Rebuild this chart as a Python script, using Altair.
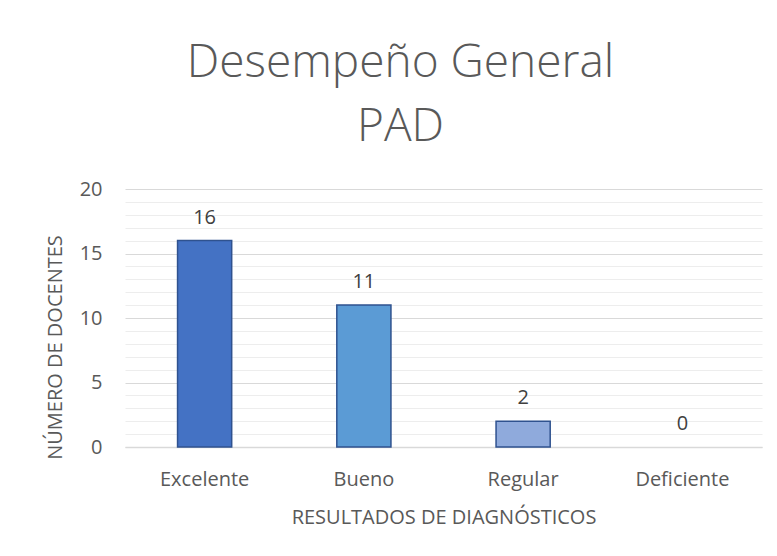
import altair as alt
import pandas as pd

categorias = ["Excelente", "Bueno", "Regular", "Deficiente"]
docentes = [16, 11, 2, 0]
colores = ["#4472C4", "#5B9BD5", "#8FAADC", "#A5A5A5"]

df = pd.DataFrame({"cat": categorias, "n": docentes, "color": colores})

FONT = "Open Sans"
TXT = "#595959"

x = alt.X("cat:N", sort=categorias, title="RESULTADOS DE DIAGNÓSTICOS",
          scale=alt.Scale(paddingInner=0.66, paddingOuter=0.33),
          axis=alt.Axis(labelAngle=0, ticks=False, domain=True, domainColor="#D9D9D9",
                        domainWidth=1.5, labelPadding=22, titlePadding=18,
                        labelFontSize=20, titleFontSize=20, labelColor=TXT,
                        titleColor=TXT, labelFont=FONT, titleFont=FONT,
                        titleFontWeight="normal"))
y = alt.Y("n:Q", title="NÚMERO DE DOCENTES",
          scale=alt.Scale(domain=[0, 20], nice=False),
          axis=alt.Axis(values=list(range(0, 21)), tickCount=30, format="d",
                        ticks=False, domain=False, labelOverlap=False,
                        labelExpr="datum.value % 5 === 0 ? datum.label : ''",
                        gridColor=alt.condition("datum.value % 5 === 0", alt.value("#D9D9D9"), alt.value("#EDEDED")),
                        gridWidth=1.2, labelPadding=23,
                        labelFontSize=20, titleFontSize=20, labelColor=TXT,
                        titleColor=TXT, labelFont=FONT, titleFont=FONT,
                        titleFontWeight="normal", titleAngle=-90,
                        titleBaseline="middle", titleAlign="center",
                        titleX=-70, titleY=158))

bars = alt.Chart(df).transform_filter("datum.n > 0").mark_bar(
    stroke="#2F528F", strokeWidth=1.5).encode(
    x=x, y=y, color=alt.Color("color:N", scale=None))

labels = alt.Chart(df).mark_text(dy=-17, baseline="alphabetic", fontSize=20,
                                 color="#404040", font=FONT).encode(
    x=alt.X("cat:N", sort=categorias), y="n:Q", text="n:Q")

chart = alt.layer(bars, labels).properties(
    width=637, height=258,
    title=alt.TitleParams(["Desempeño General", "PAD"], fontSize=46, font=FONT,
                          fontWeight=300, color=TXT, anchor="middle",
                          dx=-43, lineHeight=64, offset=28),
    autosize=alt.AutoSizeParams(type="none"),
    padding={"left": 117, "top": 181, "right": 7, "bottom": 101},
).configure_view(stroke=None)

chart.save("out.html", embed_options={"renderer": "svg", "actions": False})
